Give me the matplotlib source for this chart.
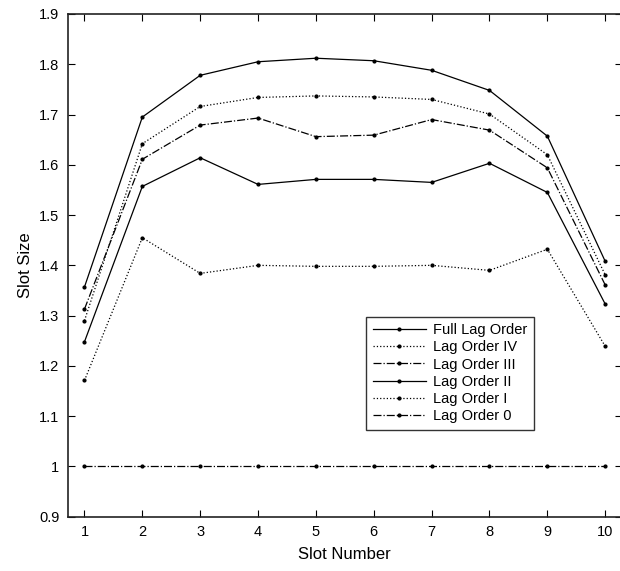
import matplotlib
matplotlib.use("Agg")
import matplotlib.pyplot as plt
from matplotlib.ticker import FormatStrFormatter
import numpy as np

plt.rcParams['font.family'] = ['Liberation Sans', 'DejaVu Sans']

slots = list(range(1, 11))

full_lag = [1.357, 1.695, 1.778, 1.805, 1.812, 1.807, 1.788, 1.748, 1.657, 1.408]
lag_iv = [1.290, 1.642, 1.716, 1.734, 1.737, 1.735, 1.730, 1.701, 1.620, 1.381]
lag_iii = [1.313, 1.611, 1.679, 1.693, 1.656, 1.659, 1.690, 1.669, 1.594, 1.361]
lag_ii = [1.248, 1.557, 1.614, 1.561, 1.571, 1.571, 1.565, 1.603, 1.545, 1.323]
lag_i = [1.171, 1.455, 1.384, 1.400, 1.398, 1.398, 1.400, 1.390, 1.432, 1.239]
lag_0 = [1.0] * 10

labels = ["Full Lag Order", "Lag Order IV", "Lag Order III",
          "Lag Order II", "Lag Order I", "Lag Order 0"]
styles = ["-", ":", "-.", "-", ":", "-."]

fig = plt.figure(figsize=(6.2, 5.71), dpi=100)
ax = fig.add_axes([0.1092, 0.0951, 0.894, 0.8804])

for vals, lab, ls in zip([full_lag, lag_iv, lag_iii, lag_ii, lag_i, lag_0], labels, styles):
	ax.plot(slots, vals, color="black", linestyle=ls, linewidth=0.9,
			marker=".", markersize=4, label=lab)

ax.set_xlim(0.71, 10.29)
ax.set_ylim(0.9, 1.9)
ax.set_xticks(slots)
ax.set_yticks(np.arange(0.9, 1.91, 0.1))
ax.yaxis.set_major_formatter(FormatStrFormatter('%g'))
ax.tick_params(direction="in", top=True, right=True, length=5, width=0.8,
			labelsize=10.5, pad=6)
for sp in ax.spines.values():
	sp.set_linewidth(1.2)
	sp.set_color("#222222")

ax.set_xlabel("Slot Number", fontsize=12, labelpad=6)
ax.set_ylabel("Slot Size", fontsize=12, labelpad=4)

leg = ax.legend(loc="upper left", bbox_to_anchor=(0.539, 0.398), fontsize=10.5,
				frameon=True, fancybox=False, handlelength=3.6, handletextpad=0.5,
				borderpad=0.45, labelspacing=0.22, borderaxespad=0)
leg.get_frame().set_edgecolor("black")
leg.get_frame().set_linewidth(1.0)

fig.savefig("out.png", dpi=100)
